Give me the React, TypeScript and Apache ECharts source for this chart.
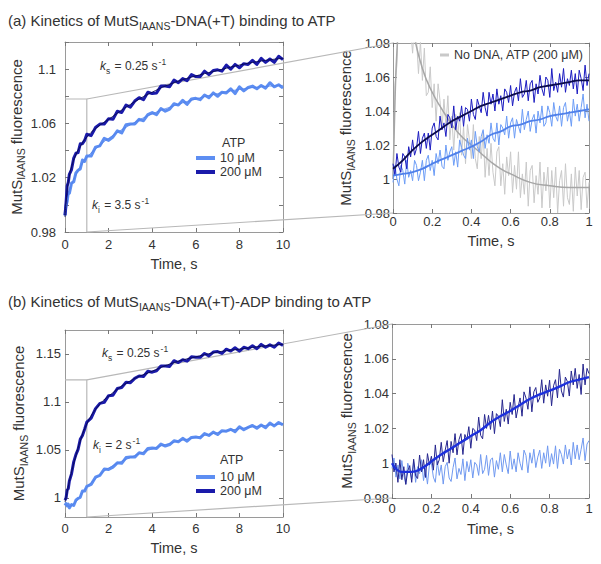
import React, { useEffect, useRef } from 'react';
import * as echarts from 'echarts';

// ---------- data ----------
const leftTimes = [0, 0.05, 0.1, 0.15, 0.2, 0.3, 0.4, 0.5, 0.6, 0.7, 0.8, 0.9, 1, 1.2, 1.4, 1.6, 1.8, 2, 2.2, 2.4, 2.6, 2.8, 3, 3.2, 3.4, 3.6, 3.8, 4, 4.2, 4.4, 4.6, 4.8, 5, 5.2, 5.4, 5.6, 5.8, 6, 6.2, 6.4, 6.6, 6.8, 7, 7.2, 7.4, 7.6, 7.8, 8, 8.2, 8.4, 8.6, 8.8, 9, 9.2, 9.4, 9.6, 9.8, 10];

const aL200 = [0.9925, 1.002, 1.014, 1.0165, 1.0225, 1.026, 1.0345, 1.038, 1.0385, 1.045, 1.045, 1.0475, 1.052, 1.051, 1.057, 1.0595, 1.0595, 1.0635, 1.063, 1.069, 1.068, 1.0735, 1.072, 1.0765, 1.079, 1.0775, 1.083, 1.082, 1.0825, 1.0875, 1.0875, 1.087, 1.092, 1.090, 1.093, 1.0915, 1.096, 1.0945, 1.0945, 1.0985, 1.096, 1.099, 1.0995, 1.0985, 1.103, 1.100, 1.1035, 1.101, 1.104, 1.1035, 1.1065, 1.1035, 1.108, 1.105, 1.1075, 1.105, 1.1095, 1.107];
const aL10 = [0.992, 0.9995, 1.0025, 1.009, 1.0085, 1.016, 1.017, 1.0235, 1.0255, 1.0265, 1.033, 1.032, 1.036, 1.036, 1.0425, 1.0435, 1.049, 1.0475, 1.050, 1.0545, 1.053, 1.059, 1.0595, 1.0595, 1.063, 1.062, 1.0665, 1.068, 1.0665, 1.071, 1.069, 1.0705, 1.0745, 1.0735, 1.077, 1.074, 1.078, 1.0785, 1.0775, 1.081, 1.079, 1.0825, 1.080, 1.083, 1.0825, 1.0855, 1.082, 1.087, 1.084, 1.0865, 1.0875, 1.0855, 1.088, 1.086, 1.090, 1.087, 1.0885, 1.086];
const bL200 = [0.9975, 1.000, 1.008, 1.0095, 1.0175, 1.025, 1.0375, 1.045, 1.0505, 1.061, 1.065, 1.0715, 1.079, 1.083, 1.093, 1.0985, 1.0995, 1.1065, 1.107, 1.114, 1.115, 1.1205, 1.120, 1.1245, 1.127, 1.1265, 1.132, 1.131, 1.1325, 1.1375, 1.1375, 1.137, 1.143, 1.141, 1.144, 1.1425, 1.147, 1.1465, 1.1465, 1.1505, 1.148, 1.152, 1.1525, 1.1505, 1.155, 1.153, 1.1565, 1.153, 1.157, 1.1555, 1.1585, 1.1555, 1.160, 1.157, 1.1595, 1.157, 1.1615, 1.159];
const bL10 = [0.992, 0.994, 0.9915, 0.9935, 0.9895, 0.993, 0.992, 0.9975, 0.9995, 1.0005, 1.007, 1.007, 1.012, 1.014, 1.0215, 1.0235, 1.030, 1.0295, 1.032, 1.0365, 1.036, 1.042, 1.0425, 1.0425, 1.047, 1.046, 1.0515, 1.052, 1.0515, 1.056, 1.054, 1.0555, 1.0595, 1.0585, 1.062, 1.059, 1.063, 1.0635, 1.0625, 1.067, 1.065, 1.0685, 1.066, 1.070, 1.0695, 1.0715, 1.069, 1.074, 1.071, 1.0735, 1.0755, 1.0725, 1.076, 1.073, 1.078, 1.075, 1.0785, 1.076];

const leftFitTimes = [0, 0.1, 0.2, 0.3, 0.5, 0.7, 1, 1.5, 2, 3, 4, 5, 6, 7, 8, 9, 10];
const aLFit200 = [0.991, 1.011, 1.021, 1.028, 1.037, 1.043, 1.050, 1.0575, 1.063, 1.074, 1.083, 1.090, 1.095, 1.099, 1.103, 1.106, 1.108];
const aLFit10 = [0.993, 1.003, 1.010, 1.015, 1.022, 1.028, 1.035, 1.0425, 1.049, 1.059, 1.067, 1.073, 1.078, 1.082, 1.085, 1.087, 1.088];
const bLFit200 = [0.996, 1.006, 1.017, 1.027, 1.044, 1.059, 1.077, 1.095, 1.106, 1.122, 1.132, 1.141, 1.147, 1.152, 1.155, 1.158, 1.160];
const bLFit10 = [0.993, 0.992, 0.991, 0.992, 0.996, 1.002, 1.011, 1.022, 1.031, 1.042, 1.051, 1.058, 1.063, 1.068, 1.072, 1.075, 1.077];

const rightTimes = [
  0, 0.01, 0.02, 0.03, 0.04, 0.05, 0.06, 0.07, 0.08, 0.09,
  0.1, 0.11, 0.12, 0.13, 0.14, 0.15, 0.16, 0.17, 0.18, 0.19,
  0.2, 0.21, 0.22, 0.23, 0.24, 0.25, 0.26, 0.27, 0.28, 0.29,
  0.3, 0.31, 0.32, 0.33, 0.34, 0.35, 0.36, 0.37, 0.38, 0.39,
  0.4, 0.41, 0.42, 0.43, 0.44, 0.45, 0.46, 0.47, 0.48, 0.49,
  0.5, 0.51, 0.52, 0.53, 0.54, 0.55, 0.56, 0.57, 0.58, 0.59,
  0.6, 0.61, 0.62, 0.63, 0.64, 0.65, 0.66, 0.67, 0.68, 0.69,
  0.7, 0.71, 0.72, 0.73, 0.74, 0.75, 0.76, 0.77, 0.78, 0.79,
  0.8, 0.81, 0.82, 0.83, 0.84, 0.85, 0.86, 0.87, 0.88, 0.89,
  0.9, 0.91, 0.92, 0.93, 0.94, 0.95, 0.96, 0.97, 0.98, 0.99, 1,
];

const aR200 = [
  1.009, 1.002, 1.015, 1.007, 1.004, 1.015, 1.013, 1.006, 1.019, 1.013,
  1.023, 1.014, 1.018, 1.028, 1.015, 1.024, 1.027, 1.018, 1.027, 1.017,
  1.030, 1.033, 1.025, 1.023, 1.037, 1.029, 1.033, 1.025, 1.038, 1.036,
  1.030, 1.043, 1.029, 1.037, 1.034, 1.043, 1.031, 1.042, 1.041, 1.034,
  1.047, 1.038, 1.035, 1.047, 1.043, 1.039, 1.051, 1.042, 1.037, 1.051,
  1.044, 1.050, 1.040, 1.053, 1.044, 1.049, 1.040, 1.053, 1.051, 1.045,
  1.055, 1.043, 1.051, 1.054, 1.046, 1.059, 1.048, 1.050, 1.058, 1.046,
  1.056, 1.058, 1.045, 1.056, 1.050, 1.061, 1.053, 1.049, 1.060, 1.058,
  1.048, 1.065, 1.052, 1.057, 1.051, 1.062, 1.054, 1.065, 1.051, 1.059,
  1.055, 1.064, 1.053, 1.062, 1.050, 1.064, 1.059, 1.052, 1.067, 1.055, 1.062,
];
const aR10 = [
  0.998, 1.008, 1.000, 0.996, 1.008, 1.005, 0.997, 1.011, 1.001, 1.005,
  0.999, 1.011, 1.008, 0.999, 1.004, 1.011, 0.999, 1.011, 1.014, 1.005,
  1.011, 1.002, 1.015, 1.009, 1.017, 1.0075, 1.006, 1.020, 1.011, 1.016,
  1.019, 1.008, 1.016, 1.007, 1.023, 1.0185, 1.014, 1.012, 1.024, 1.017,
  1.023, 1.012, 1.028, 1.019, 1.016, 1.025, 1.029, 1.018, 1.026, 1.021,
  1.033, 1.024, 1.022, 1.033, 1.020, 1.032, 1.030, 1.026, 1.037, 1.024,
  1.033, 1.036, 1.024, 1.035, 1.031, 1.027, 1.041, 1.029, 1.035, 1.040,
  1.028, 1.035, 1.038, 1.027, 1.040, 1.033, 1.043, 1.031, 1.033, 1.043,
  1.039, 1.031, 1.045, 1.037, 1.034, 1.043, 1.031, 1.042, 1.045, 1.034,
  1.040, 1.031, 1.047, 1.037, 1.044, 1.034, 1.042, 1.050, 1.036, 1.044, 1.034,
];
const aRNoDNA = [
  1.000, 1.055, 1.067, 1.106, 1.093, 1.115, 1.121, 1.098, 1.113, 1.088,
  1.074, 1.092, 1.082, 1.062, 1.081, 1.058, 1.077, 1.049, 1.051, 1.066,
  1.042, 1.056, 1.034, 1.056, 1.046, 1.029, 1.047, 1.031, 1.049, 1.023,
  1.037, 1.017, 1.038, 1.024, 1.039, 1.014, 1.031, 1.009, 1.032, 1.023,
  1.012, 1.032, 1.012, 1.006, 1.025, 1.012, 1.028, 1.001, 1.018, 1.002,
  1.021, 1.004, 0.996, 1.016, 1.019, 0.996, 1.009, 0.991, 1.013, 1.002,
  1.016, 0.992, 1.008, 0.994, 1.016, 0.989, 1.003, 0.991, 1.010, 0.984,
  1.005, 1.008, 0.986, 1.002, 0.991, 1.010, 0.983, 1.004, 0.993, 1.007,
  0.983, 1.005, 0.989, 1.007, 0.980, 0.999, 1.005, 0.984, 1.009, 0.989,
  0.985, 1.003, 0.981, 1.007, 0.990, 1.005, 0.982, 1.001, 1.004, 0.983, 0.998,
];
const bR200 = [
  1.005, 0.995, 1.000, 0.989, 1.002, 0.9905, 0.998, 0.9878, 0.9956, 0.9986,
  0.989, 1.0023, 0.9927, 0.9912, 1.0047, 0.995, 1.002, 0.9918, 1.0055, 0.999,
  1.004, 0.996, 1.0105, 0.999, 1.002, 1.012, 1.0008, 1.0075, 1.013, 1.000,
  1.0125, 1.006, 1.017, 1.0048, 1.0135, 1.017, 1.005, 1.0165, 1.0135, 1.021,
  1.0086, 1.020, 1.019, 1.013, 1.0265, 1.016, 1.014, 1.028, 1.020, 1.0275,
  1.0194, 1.030, 1.017, 1.0285, 1.027, 1.021, 1.0365, 1.024, 1.031, 1.0225,
  1.035, 1.028, 1.0395, 1.026, 1.032, 1.0375, 1.027, 1.041, 1.0375, 1.031,
  1.0439, 1.0295, 1.041, 1.0435, 1.035, 1.0375, 1.048, 1.0345, 1.045, 1.0385,
  1.0477, 1.033, 1.0445, 1.048, 1.0375, 1.054, 1.0415, 1.038, 1.0495, 1.047,
  1.0386, 1.053, 1.045, 1.0545, 1.043, 1.051, 1.0395, 1.057, 1.045, 1.0545, 1.0515,
];
const bR10 = [
  0.997, 1.003, 0.992, 0.999, 0.991, 1.0015, 0.993, 0.988, 1.000, 0.996,
  0.991, 1.001, 0.989, 0.998, 0.994, 1.002, 0.990, 0.997, 0.988, 0.999,
  1.000, 0.992, 0.989, 1.001, 0.993, 0.999, 0.988, 0.998, 1.0005, 0.9915,
  0.9895, 0.9975, 1.003, 0.991, 0.997, 0.9935, 1.0025, 0.990, 1.001, 0.995,
  1.002, 0.9915, 1.0005, 0.999, 0.993, 1.005, 0.994, 0.9965, 1.0045, 0.993,
  1.002, 1.003, 0.992, 1.0015, 0.9965, 1.006, 0.995, 1.005, 0.999, 0.994,
  1.007, 0.9965, 1.0025, 0.995, 1.006, 1.000, 0.996, 1.0075, 1.0045, 0.9945,
  1.006, 1.000, 1.008, 0.9975, 1.0035, 1.0075, 0.997, 1.006, 1.000, 1.010,
  0.998, 1.0055, 0.9995, 1.010, 0.997, 1.008, 1.005, 0.9995, 1.0105, 1.0025,
  1.008, 0.999, 1.012, 1.0025, 1.0105, 1.002, 1.008, 1.0145, 1.0015, 1.011, 1.013,
];

const rightFitTimes = [0, 0.05, 0.1, 0.15, 0.2, 0.25, 0.3, 0.35, 0.4, 0.45, 0.5, 0.55, 0.6, 0.65, 0.7, 0.75, 0.8, 0.85, 0.9, 0.95, 1];
const aRFit200 = [1.006, 1.011, 1.017, 1.022, 1.026, 1.030, 1.034, 1.037, 1.040, 1.043, 1.045, 1.047, 1.049, 1.051, 1.052, 1.054, 1.055, 1.056, 1.057, 1.058, 1.058];
const aRFit10 = [1.002, 1.003, 1.004, 1.006, 1.009, 1.0115, 1.014, 1.0165, 1.019, 1.022, 1.026, 1.028, 1.031, 1.032, 1.034, 1.035, 1.037, 1.038, 1.039, 1.040, 1.041];
const bRFit200 = [1.000, 0.995, 0.995, 0.997, 1.001, 1.005, 1.0085, 1.012, 1.0156, 1.019, 1.0234, 1.027, 1.030, 1.0335, 1.0369, 1.0395, 1.0417, 1.044, 1.0466, 1.048, 1.0495];
const grayFitTimes = [0, 0.01, 0.02, 0.04, 0.06, 0.08, 0.1, 0.15, 0.2, 0.25, 0.3, 0.35, 0.4, 0.45, 0.5, 0.55, 0.6, 0.7, 0.8, 0.9, 1];
const grayFit = [1.000, 1.045, 1.075, 1.105, 1.110, 1.100, 1.088, 1.065, 1.051, 1.041, 1.032, 1.025, 1.020, 1.015, 1.010, 1.006, 1.003, 0.998, 0.996, 0.995, 0.995];

// axis ticks / labels
const xTicksLeft = [0, 10, 2];
const xTicksRight = [0, 1, 0.2];
const aLyTicks = [0.98, 1.0, 1.02, 1.04, 1.06, 1.08, 1.1, 1.12];
const aLyLabels = [0.98, 1.02, 1.06, 1.1];
const rightYTicks = [0.98, 1.0, 1.02, 1.04, 1.06, 1.08];
const bLyTicks = [1.0, 1.05, 1.1, 1.15];

// zoom boxes: [x right edge, y bottom, y top] in left panel; target corners in right panel
const zoomBoxA = [1, 0.98, 1.078];
const zoomBoxB = [1, 0.98, 1.123];
const zoomTarget = [0, 0.98, 1.08];

const legendNames = ['10 μM', '200 μM'];

// ---------- styles ----------
const FONT = "'Liberation Sans', Arial, Helvetica, sans-serif";
const TXT = '#333';
const LIGHT = '#5d8ef2';
const DARK = '#1a1aaa';
const DARK_FIT = '#0a0a50';
const GRAY = '#c9c9c9';
const GRAY_FIT = '#a6a6a6';
const AXIS = '#9a9a9a';
const ZOOM_LINE = '#b8b8b8';

const pairs = (xs: number[], ys: number[]) => xs.map((x, i) => [x, ys[i]]);
const fmt = (v: number) => String(parseFloat(Number(v).toFixed(3)));

const tickStyle = { show: true, inside: true, length: 4, lineStyle: { color: '#777', width: 1 } };
const lineStyleAxis = { show: true, onZero: false, lineStyle: { color: AXIS, width: 1 } };

const base = { fontFamily: FONT, color: TXT, fontWeight: 'normal' };
const nameRich = {
  n: { ...base, fontSize: 15, verticalAlign: 'top', padding: [3, 0, 0, 0], lineHeight: 17 },
  s: { ...base, fontSize: 10.5, verticalAlign: 'top', padding: [10, 0, 0, 0], lineHeight: 12 },
};
const titleRich = {
  n: { ...base, fontSize: 15, verticalAlign: 'top', padding: [3, 0, 0, 0], lineHeight: 16 },
  s: { ...base, fontSize: 10.5, verticalAlign: 'top', padding: [10, 0, 0, 0], lineHeight: 11 },
};
const kRich = {
  a: { ...base, fontSize: 12, verticalAlign: 'top', padding: [4, 0, 0, 0], lineHeight: 14 },
  k: { ...base, fontSize: 12, fontStyle: 'italic', verticalAlign: 'top', padding: [4, 0, 0, 0], lineHeight: 14 },
  sb: { ...base, fontSize: 8.5, verticalAlign: 'top', padding: [10, 1, 0, 0], lineHeight: 9 },
  sp: { ...base, fontSize: 8.5, verticalAlign: 'top', padding: [1, 0, 0, 1], lineHeight: 9 },
};

function xAxes(grid: number, t: number[], margin: number, nameGap: number) {
  const [min, max, interval] = t;
  return [
    {
      type: 'value', gridIndex: grid, min, max, interval, position: 'bottom',
      axisLine: lineStyleAxis, axisTick: tickStyle, splitLine: { show: false },
      axisLabel: { show: true, margin, fontSize: 13, color: TXT, fontFamily: FONT, formatter: fmt },
      name: 'Time, s', nameLocation: 'middle', nameGap,
      nameTextStyle: { fontSize: 14.5, color: TXT, fontFamily: FONT },
    },
    {
      type: 'value', gridIndex: grid, min, max, interval, position: 'top',
      axisLine: lineStyleAxis, axisTick: tickStyle, splitLine: { show: false },
      axisLabel: { show: false },
    },
  ];
}

function yAxes(grid: number, min: number, max: number, ticks: number[], labels: number[], margin: number, nameGap: number) {
  return [
    {
      type: 'value', gridIndex: grid, min, max, position: 'left',
      axisLine: lineStyleAxis,
      axisTick: { ...tickStyle, customValues: ticks },
      splitLine: { show: false },
      axisLabel: { show: true, margin, fontSize: 13, color: TXT, fontFamily: FONT, customValues: labels, formatter: fmt },
      name: '{n|MutS}{s|IAANS}{n| fluorescence}', nameLocation: 'middle', nameGap, nameRotate: 90,
      nameTextStyle: { rich: nameRich },
    },
    {
      type: 'value', gridIndex: grid, min, max, position: 'right',
      axisLine: lineStyleAxis,
      axisTick: { ...tickStyle, customValues: ticks },
      splitLine: { show: false },
      axisLabel: { show: false },
    },
  ];
}

// panel index p -> its bottom x axis and left y axis (2p)
function line(name: string, p: number, data: number[][], color: string, width: number, z: number, smooth = false) {
  return {
    type: 'line', name, xAxisIndex: p * 2, yAxisIndex: p * 2, data,
    showSymbol: false, symbol: 'none', smooth, clip: true, silent: true,
    lineStyle: { color, width, join: 'round' }, itemStyle: { color }, z,
    emphasis: { disabled: true },
  };
}

export default function App() {
  const ref = useRef<HTMLDivElement>(null);

  useEffect(() => {
    if (!ref.current) return;
    const chart = echarts.init(ref.current, undefined, { renderer: 'svg' });

    const option: any = {
      animation: false,
      backgroundColor: '#ffffff',
      textStyle: { fontFamily: FONT },
      title: [
        { left: 3, top: 5, text: '{n|(a) Kinetics of MutS}{s|IAANS}{n|-DNA(+T) binding to ATP}', textStyle: { fontWeight: 'normal', rich: titleRich } },
        { left: 3, top: 286, text: '{n|(b) Kinetics of MutS}{s|IAANS}{n|-DNA(+T)-ADP binding to ATP}', textStyle: { fontWeight: 'normal', rich: titleRich } },
      ],
      grid: [
        { left: 65, top: 42, width: 218, height: 190 },
        { left: 393, top: 43, width: 196, height: 170 },
        { left: 65, top: 330, width: 218, height: 187 },
        { left: 392, top: 324, width: 197, height: 174 },
      ],
      xAxis: [
        ...xAxes(0, xTicksLeft, 6, 24),
        ...xAxes(1, xTicksRight, 2, 20),
        ...xAxes(2, xTicksLeft, 5, 23),
        ...xAxes(3, xTicksRight, 4, 23),
      ],
      yAxis: [
        ...yAxes(0, 0.98, 1.12, aLyTicks, aLyLabels, 9, 40),
        ...yAxes(1, 0.98, 1.08, rightYTicks, rightYTicks, 3, 41),
        ...yAxes(2, 0.98, 1.175, bLyTicks, bLyTicks, 4, 40),
        ...yAxes(3, 0.98, 1.08, rightYTicks, rightYTicks, 3, 39),
      ],
      legend: [
        {
          left: 196, top: 151, orient: 'vertical', padding: 0, itemWidth: 19, itemHeight: 4, itemGap: 0,
          icon: 'rect', selectedMode: false, data: legendNames,
          textStyle: { fontSize: 12.5, color: TXT, fontFamily: FONT, lineHeight: 14 },
        },
        {
          left: 196, top: 470, orient: 'vertical', padding: 0, itemWidth: 19, itemHeight: 4, itemGap: 0,
          icon: 'rect', selectedMode: false, data: legendNames,
          textStyle: { fontSize: 12.5, color: TXT, fontFamily: FONT, lineHeight: 14 },
        },
        {
          left: 440, top: 48, orient: 'horizontal', padding: 0, itemWidth: 9, itemHeight: 3,
          icon: 'rect', selectedMode: false, data: ['No DNA, ATP (200 μM)'],
          textStyle: { fontSize: 12.5, color: TXT, fontFamily: FONT, lineHeight: 14 },
        },
      ],
      series: [
        // (a) left
        line('10 μM', 0, pairs(leftTimes, aL10), LIGHT, 3, 3),
        line('200 μM', 0, pairs(leftTimes, aL200), DARK, 3, 4),
        line('fit a 10', 0, pairs(leftFitTimes, aLFit10), '#4f80ea', 0.8, 5, true),
        line('fit a 200', 0, pairs(leftFitTimes, aLFit200), DARK_FIT, 0.9, 6, true),
        // (a) right
        line('No DNA, ATP (200 μM)', 1, pairs(rightTimes, aRNoDNA), GRAY, 1, 2),
        line('fit no DNA', 1, pairs(grayFitTimes, grayFit), GRAY_FIT, 1.5, 3, true),
        line('a zoom 10', 1, pairs(rightTimes, aR10), '#6d9df6', 1, 4),
        line('a zoom 200', 1, pairs(rightTimes, aR200), '#1c1cc0', 1, 5),
        line('fit a zoom 10', 1, pairs(rightFitTimes, aRFit10), '#4f80ea', 1.8, 6, true),
        line('fit a zoom 200', 1, pairs(rightFitTimes, aRFit200), '#0a0a4a', 1.8, 7, true),
        // (b) left
        line('10 μM', 2, pairs(leftTimes, bL10), LIGHT, 3, 3),
        line('200 μM', 2, pairs(leftTimes, bL200), DARK, 3, 4),
        line('fit b 10', 2, pairs(leftFitTimes, bLFit10), '#4f80ea', 0.8, 5, true),
        line('fit b 200', 2, pairs(leftFitTimes, bLFit200), DARK_FIT, 0.9, 6, true),
        // (b) right
        line('b zoom 10', 3, pairs(rightTimes, bR10), '#7099f0', 1, 4),
        line('b zoom 200', 3, pairs(rightTimes, bR200), '#26268e', 1, 5),
        line('fit b zoom 200', 3, pairs(rightFitTimes, bRFit200), '#1c30dc', 2.4, 7, true),
      ],
    };
    chart.setOption(option);

    const px = (p: number, pt: number[]) =>
      chart.convertToPixel({ xAxisIndex: p * 2, yAxisIndex: p * 2 }, pt) as number[];

    const zoomGraphics = (lp: number, rp: number, box: number[]) => {
      const [xr, yb, yt] = box;
      const p0 = px(lp, [0, yt]);
      const p1 = px(lp, [xr, yt]);
      const p2 = px(lp, [xr, yb]);
      const q1 = px(rp, [zoomTarget[0], zoomTarget[2]]);
      const q2 = px(rp, [zoomTarget[0], zoomTarget[1]]);
      const st = { stroke: ZOOM_LINE, lineWidth: 1.2, fill: 'none' };
      return [
        { type: 'polyline', silent: true, z: 1, shape: { points: [p0, p1, p2] }, style: st },
        { type: 'line', silent: true, z: 1, shape: { x1: p1[0], y1: p1[1], x2: q1[0], y2: q1[1] }, style: st },
        { type: 'line', silent: true, z: 1, shape: { x1: p2[0], y1: p2[1], x2: q2[0], y2: q2[1] }, style: st },
      ];
    };

    const txt = (x: number, y: number, text: string) => ({
      type: 'text', x, y, z: 20, silent: true,
      style: { text, rich: kRich, verticalAlign: 'middle', align: 'left', fill: TXT, font: `12px ${FONT}` },
    });

    chart.setOption({
      graphic: [
        ...zoomGraphics(0, 1, zoomBoxA),
        ...zoomGraphics(2, 3, zoomBoxB),
        txt(100, 63, '{k|k}{sb|s}{a| = 0.25 s}{sp|-1}'),
        txt(92, 202, '{k|k}{sb|i}{a| = 3.5 s}{sp|-1}'),
        txt(102, 350, '{k|k}{sb|s}{a| = 0.25 s}{sp|-1}'),
        txt(93, 442, '{k|k}{sb|i}{a| = 2 s}{sp|-1}'),
        { type: 'text', x: 222, y: 143, z: 20, silent: true, style: { text: 'ATP', fill: TXT, font: `12.5px ${FONT}`, verticalAlign: 'middle' } },
        { type: 'text', x: 220, y: 460, z: 20, silent: true, style: { text: 'ATP', fill: TXT, font: `12.5px ${FONT}`, verticalAlign: 'middle' } },
      ],
    });

    return () => chart.dispose();
  }, []);

  return (
    <div
      ref={ref}
      style={{ position: 'absolute', left: 0, top: 0, width: 601, height: 564, background: '#fff' }}
    />
  );
}
